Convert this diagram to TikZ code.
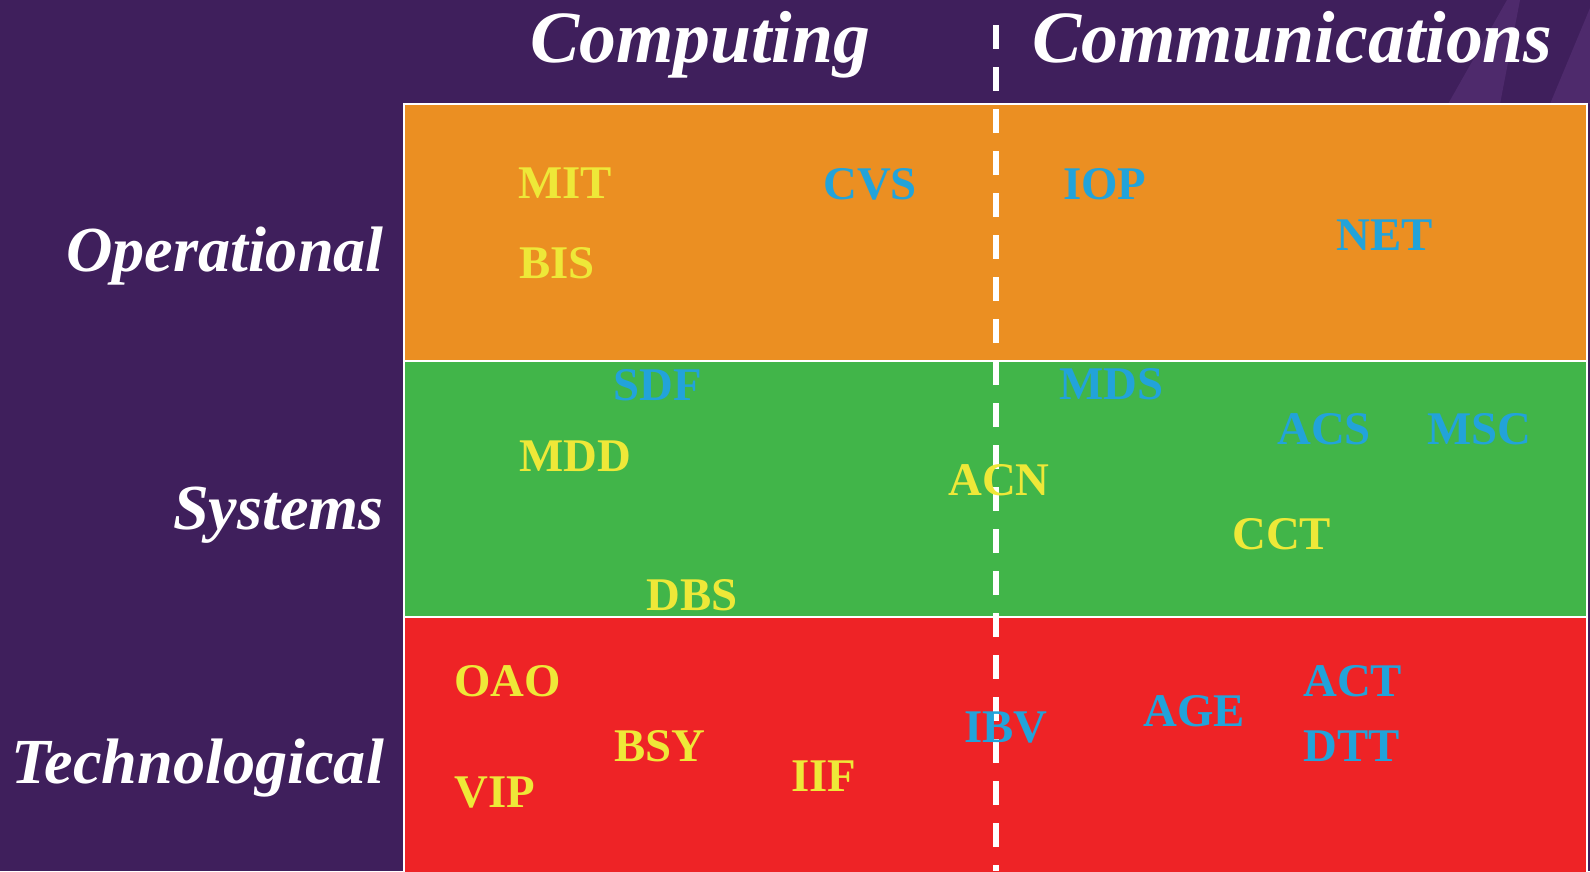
\documentclass[tikz,border=0pt]{standalone}
\usepackage{fontspec}
\setmainfont{Liberation Serif}
\definecolor{bgpurple}{HTML}{3F1F5C}
\definecolor{stripe}{HTML}{4E2A6C}
\definecolor{oprow}{HTML}{EB8F22}
\definecolor{sysrow}{HTML}{41B549}
\definecolor{techrow}{HTML}{EE2326}
\definecolor{lblyellow}{HTML}{EEE838}
\definecolor{lblblue}{HTML}{22A3DA}
\begin{document}
\begin{tikzpicture}[x=1bp,y=-1bp,
  header/.style={anchor=base west,inner sep=0,text=white,font=\bfseries\itshape\fontsize{74}{74}\selectfont},
  rowlabel/.style={anchor=base east,inner sep=0,text=white,font=\bfseries\itshape\fontsize{64.5}{64.5}\selectfont},
  item/.style={anchor=base west,inner sep=0,font=\bfseries\fontsize{47}{47}\selectfont},
  yel/.style={item,text=lblyellow},
  blu/.style={item,text=lblblue},
  band/.style={draw=white,line width=2bp}]
\useasboundingbox (0,0) rectangle (1590,871);
\fill[bgpurple] (0,0) rectangle (1590,871);
\fill[stripe] (1507,0) -- (1520,0) -- (1500,104) -- (1448,104) -- cycle;
\fill[stripe] (1590,8) -- (1590,104) -- (1550,104) -- cycle;
% bands
\path[band,fill=oprow] (404,104) rectangle (1587,361);
\path[band,fill=sysrow] (404,361) rectangle (1587,617);
\path[band,fill=techrow] (404,617) rectangle (1587,880);
% divider
\coordinate (dtop) at (996,25);
\coordinate (dbot) at (996,871);
\draw[white,line width=6bp,dash pattern=on 24bp off 18bp] (dtop) -- (dbot);
% headers
\node[header] (hcomp) at (530,62) {Computing};
\node[header] (hcomm) at (1032,62) {Communications};
% row labels
\node[rowlabel] (lop) at (384,271) {Operational};
\node[rowlabel] (lsys) at (384,529) {Systems};
\node[rowlabel] (ltech) at (384,783) {Technological};
% operational
\node[yel] (mit) at (518,198) {MIT};
\node[yel] (bis) at (519,278) {BIS};
\node[blu] (cvs) at (823,199) {CVS};
\node[blu] (iop) at (1063,199) {IOP};
\node[blu] (net) at (1336,250) {NET};
% systems
\node[blu] (sdf) at (613,400) {SDF};
\node[blu] (mds) at (1059,399) {MDS};
\node[yel] (mdd) at (519,471) {MDD};
\node[blu] (acs) at (1277,444) {ACS};
\node[blu] (msc) at (1427,444) {MSC};
\node[yel] (acn) at (948,495) {ACN};
\node[yel] (cct) at (1232,549) {CCT};
\node[yel] (dbs) at (646,610) {DBS};
% technological
\node[yel] (oao) at (454,696) {OAO};
\node[yel] (bsy) at (614,761) {BSY};
\node[yel] (iif) at (791,791) {IIF};
\node[yel] (vip) at (454,807) {VIP};
\node[blu] (ibv) at (964,742) {IBV};
\node[blu] (age) at (1143,726) {AGE};
\node[blu] (act) at (1303,696) {ACT};
\node[blu] (dtt) at (1303,761) {DTT};
\end{tikzpicture}
\end{document}
